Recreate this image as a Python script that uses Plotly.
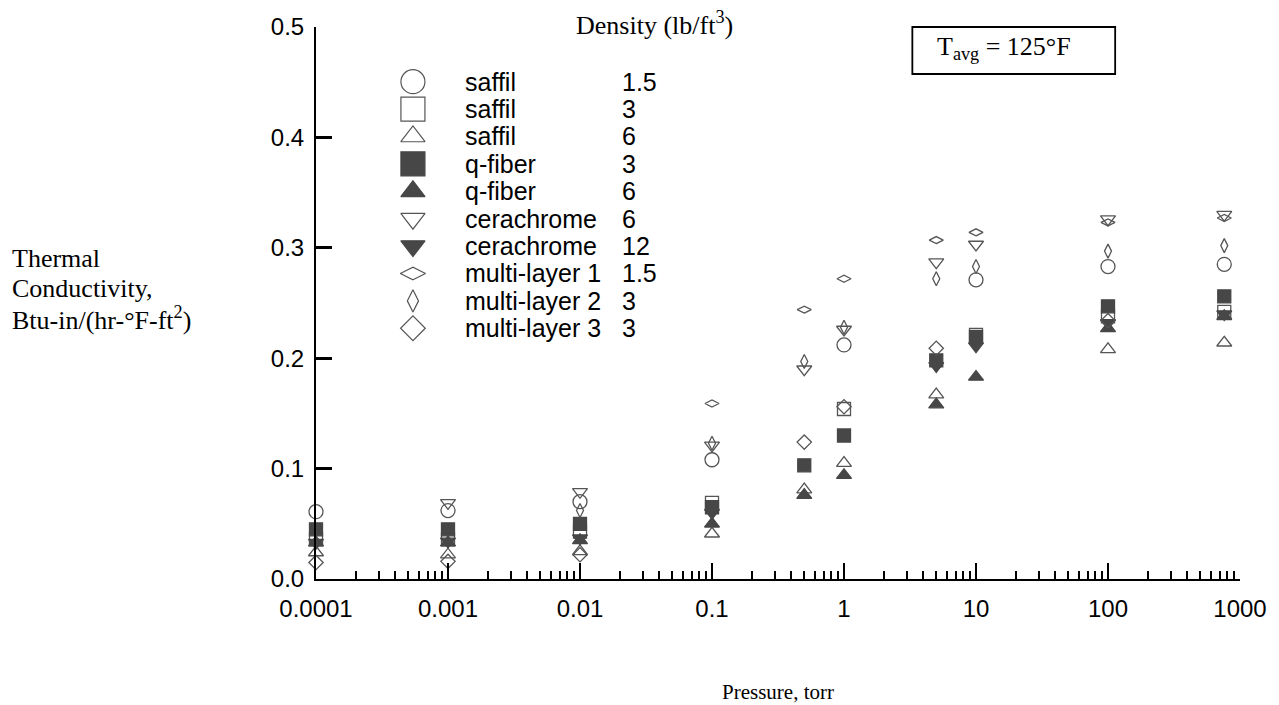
import plotly.graph_objects as go

# ---------------- data ----------------
pressure = [1e-4, 1e-3, 1e-2, 0.1, 0.5, 1, 5, 10, 100, 760]

saffil_15 = [0.061, 0.062, 0.070, 0.108, None, 0.212, None, 0.271, 0.283, 0.285]
saffil_3 = [0.036, 0.036, 0.043, 0.069, None, 0.154, None, 0.221, 0.238, 0.242]
saffil_6 = [0.024, 0.022, 0.025, 0.041, 0.081, 0.105, 0.167, None, 0.208, 0.214]
qfiber_3 = [0.045, 0.045, 0.050, 0.065, 0.103, 0.130, 0.198, 0.219, 0.247, 0.256]
qfiber_6 = [0.033, 0.033, 0.035, 0.050, 0.076, 0.094, 0.158, 0.183, 0.227, 0.238]
cerachrome_6 = [None, 0.069, 0.079, 0.121, 0.190, 0.226, 0.287, 0.303, 0.326, 0.330]
cerachrome_12 = [0.033, 0.034, 0.037, 0.060, None, None, 0.193, 0.211, 0.232, 0.240]
multilayer_1 = [None, None, None, 0.159, 0.244, 0.272, 0.307, 0.314, 0.323, 0.327]
multilayer_2 = [None, None, 0.062, 0.123, 0.197, 0.228, 0.272, 0.283, 0.297, 0.302]
multilayer_3 = [0.015, 0.016, 0.022, None, 0.124, 0.156, 0.209, None, 0.234, None]

material_names = ["saffil", "saffil", "saffil", "q-fiber", "q-fiber",
                  "cerachrome", "cerachrome", "multi-layer 1", "multi-layer 2", "multi-layer 3"]
densities = ["1.5", "3", "6", "3", "6", "6", "12", "1.5", "3", "3"]
series_values = [saffil_15, saffil_3, saffil_6, qfiber_3, qfiber_6,
                 cerachrome_6, cerachrome_12, multilayer_1, multilayer_2, multilayer_3]

x_tickvals = [1e-4, 1e-3, 1e-2, 1e-1, 1, 10, 100, 1000]
x_ticktext = ["0.0001", "0.001", "0.01", "0.1", "1", "10", "100", "1000"]

y_title_lines = ["Thermal", "Conductivity,", "Btu-in/(hr-°F-ft<sup>2</sup>)"]

# ---------------- styles ----------------
OPEN = "#555555"
FILL = "#474747"
symbols = ["circle-open", "square-open", "triangle-up-open", "square", "triangle-up",
           "triangle-down-open", "triangle-down", "diamond-wide-open", "diamond-tall-open", "diamond-open"]
colors = [OPEN, OPEN, OPEN, FILL, FILL, OPEN, FILL, OPEN, OPEN, OPEN]
plot_sizes = [14, 13, 13, 13, 13, 13, 13, 10, 10, 11]
legend_sizes = [24, 24, 21, 24, 21, 21, 21, 18, 16, 19]

SERIF = "Liberation Serif, Times New Roman, serif"
SANS = "Liberation Sans, Arial, sans-serif"

fig = go.Figure()

for name, dens, vals, sym, col, sz in zip(material_names, densities, series_values,
                                         symbols, colors, plot_sizes):
    fig.add_trace(go.Scatter(
        x=pressure, y=vals, mode="markers", name=f"{name} {dens}",
        marker=dict(symbol=sym, size=sz, color=col, line=dict(width=1.3, color=col)),
        showlegend=False, cliponaxis=False,
    ))

# custom legend drawn on an overlay axis (row index)
for i, (sym, col, sz) in enumerate(zip(symbols, colors, legend_sizes)):
    fig.add_trace(go.Scatter(
        x=[0.1049], y=[i], xaxis="x2", yaxis="y2", mode="markers",
        marker=dict(symbol=sym, size=sz, color=col, line=dict(width=1.2, color=col)),
        showlegend=False, hoverinfo="skip", cliponaxis=False,
    ))

annotations = []
for i, (name, dens) in enumerate(zip(material_names, densities)):
    annotations.append(dict(x=0.1595, y=i, xref="paper", yref="y2", text=name,
                            showarrow=False, xanchor="left", yanchor="middle",
                            font=dict(family=SANS, size=25, color="black")))
    annotations.append(dict(x=0.3285, y=i, xref="paper", yref="y2", text=dens,
                            showarrow=False, xanchor="left", yanchor="middle",
                            font=dict(family=SANS, size=25, color="black")))

for j, line in enumerate(y_title_lines):
    annotations.append(dict(x=-0.3308, y=(579 - (258 + 30 * j)) / 552, xref="paper", yref="paper",
                            text=line, showarrow=False, xanchor="left", yanchor="middle",
                            font=dict(family=SERIF, size=26, color="black")))

annotations += [
    dict(x=0.366, y=1.0072, xref="paper", yref="paper",
         text="Density (lb/ft<sup>3</sup>)", showarrow=False,
         xanchor="center", yanchor="middle", font=dict(family=SERIF, size=26, color="black")),
    dict(x=0.7449, y=0.962, xref="paper", yref="paper",
         text="T<sub>avg</sub> = 125°F", showarrow=False,
         xanchor="center", yanchor="middle",
         font=dict(family=SERIF, size=26, color="black")),
    dict(x=0.5, y=-0.2047, xref="paper", yref="paper",
         text="Pressure, torr", showarrow=False,
         xanchor="center", yanchor="middle", font=dict(family=SERIF, size=21, color="black")),
]

shapes = [dict(type="rect", xref="paper", yref="paper",
               x0=0.6454, x1=0.8649, y0=0.9149, y1=1.0,
               line=dict(color="black", width=1.8), fillcolor="rgba(0,0,0,0)")]

minor_vals = [m * 10 ** d for d in range(-4, 3) for m in range(2, 10)]

fig.update_layout(
    width=1279, height=705,
    margin=dict(l=316, r=29, t=27, b=126),
    paper_bgcolor="white", plot_bgcolor="white",
    showlegend=False,
    annotations=annotations,
    shapes=shapes,
    xaxis=dict(
        type="log", range=[-4, 3],
        tickmode="array", tickvals=x_tickvals, ticktext=x_ticktext,
        ticks="inside", ticklen=16, tickwidth=1.5, tickcolor="black",
        showline=True, linecolor="black", linewidth=2,
        showgrid=False, zeroline=False,
        ticklabelstandoff=7,
        tickfont=dict(family=SANS, size=24, color="black"),
        minor=dict(tickmode="array", tickvals=minor_vals, ticks="inside",
                   ticklen=8, tickwidth=1.6, tickcolor="black", showgrid=False),
    ),
    yaxis=dict(
        range=[0, 0.5], tickmode="linear", tick0=0, dtick=0.1, tickformat=".1f",
        ticks="inside", ticklen=16, tickwidth=2.5, tickcolor="black",
        showline=True, linecolor="black", linewidth=2,
        showgrid=False, zeroline=False,
        ticklabelstandoff=5,
        tickfont=dict(family=SANS, size=24, color="black"),
    ),
    xaxis2=dict(overlaying="x", range=[0, 1], visible=False, fixedrange=True),
    yaxis2=dict(overlaying="y", range=[18.15, -1.996], visible=False, fixedrange=True),
)

fig.write_html("out.html", config={"displayModeBar": False},
               post_script="document.body.style.margin='0px';")
